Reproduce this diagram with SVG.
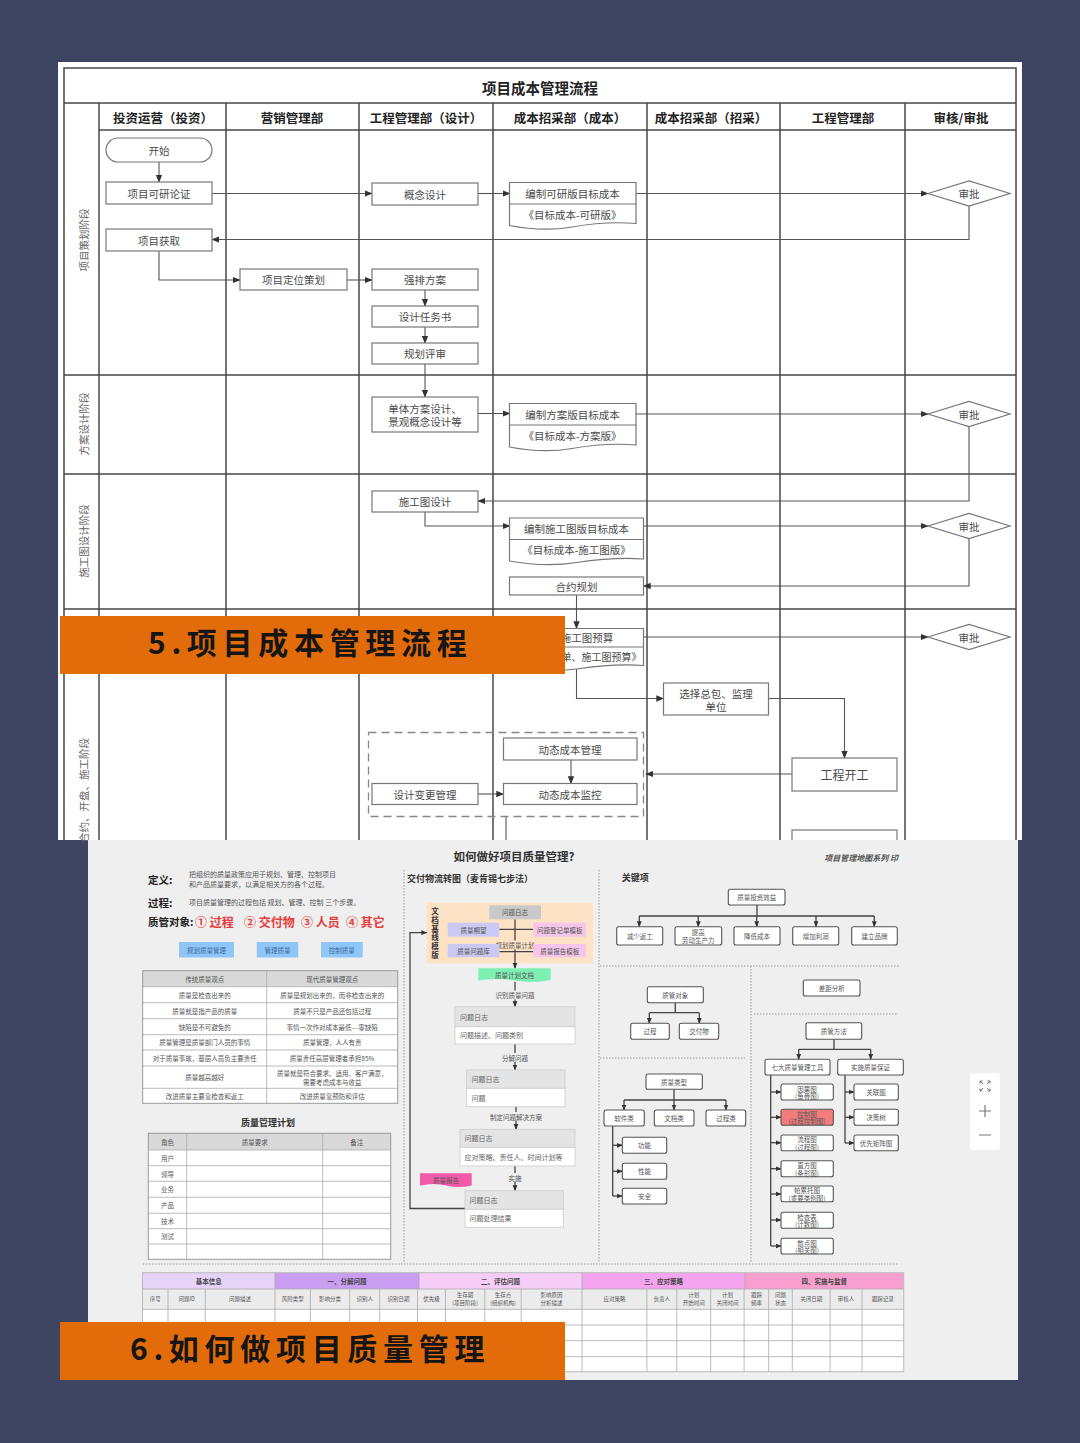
<svg xmlns="http://www.w3.org/2000/svg" width="1080" height="1443" viewBox="0 0 1080 1443">
<defs>
<style>
text{font-family:"Noto Sans CJK SC","Noto Sans",sans-serif;}
.t{font-size:10.5px;fill:#4a4a4a;text-anchor:middle;dominant-baseline:central;}
.hd{font-size:12.5px;font-weight:bold;fill:#222;text-anchor:middle;dominant-baseline:central;}
.ph{font-size:10.5px;fill:#666;text-anchor:middle;dominant-baseline:central;}
.bx{fill:#fff;stroke:#777;stroke-width:1.2;}
.ln{fill:none;stroke:#555;stroke-width:1.1;}
.grid{stroke:#474747;stroke-width:1.5;fill:none;}
.ban{font-size:30px;font-weight:bold;fill:#151515;letter-spacing:5.7px;}
.s{font-size:6.5px;fill:#555;text-anchor:middle;dominant-baseline:central;}
.sl{font-size:7px;fill:#666;dominant-baseline:central;}
.nb{fill:#fff;stroke:#555;stroke-width:1.1;}
.cl{fill:none;stroke:#444;stroke-width:1.3;}
.dot{fill:none;stroke:#999;stroke-width:1;stroke-dasharray:1.5,1.5;}
.tb{fill:none;stroke:#aaa;stroke-width:0.8;}
.lh{font-size:10.5px;font-weight:bold;fill:#222;dominant-baseline:central;}
.red{font-size:12px;font-weight:bold;fill:#e83a3a;dominant-baseline:central;}
.lbl{font-size:6.5px;fill:#555;text-anchor:middle;dominant-baseline:central;}
</style>
<marker id="a" viewBox="0 0 10 10" refX="9" refY="5" markerWidth="8" markerHeight="8" orient="auto" markerUnits="userSpaceOnUse"><path d="M0,1 L10,5 L0,9 z" fill="#333"/></marker>
<marker id="b" viewBox="0 0 10 10" refX="9" refY="5" markerWidth="6" markerHeight="6" orient="auto" markerUnits="userSpaceOnUse"><path d="M0,1 L10,5 L0,9 z" fill="#333"/></marker>
</defs>

<rect x="0" y="0" width="1080" height="1443" fill="#3e4562"/>

<!-- ============ TOP: 项目成本管理流程 ============ -->
<g id="top-panel">
<rect x="58" y="62" width="964" height="778" fill="#fff"/>
<path class="grid" d="M64,840 V68 H1016 V840"/>
<line x1="64" y1="103" x2="1016" y2="103" class="grid"/>
<line x1="99" y1="130" x2="1016" y2="130" class="grid"/>
<line x1="99" y1="103" x2="99" y2="840" class="grid"/>
<line x1="226" y1="103" x2="226" y2="840" class="grid"/>
<line x1="359" y1="103" x2="359" y2="840" class="grid"/>
<line x1="493" y1="103" x2="493" y2="840" class="grid"/>
<line x1="647" y1="103" x2="647" y2="840" class="grid"/>
<line x1="780" y1="103" x2="780" y2="840" class="grid"/>
<line x1="905" y1="103" x2="905" y2="840" class="grid"/>
<line x1="64" y1="375" x2="1016" y2="375" class="grid"/>
<line x1="64" y1="474" x2="1016" y2="474" class="grid"/>
<line x1="64" y1="609" x2="1016" y2="609" class="grid"/>
<text x="540" y="87" class="hd" style="font-size:14.5px">项目成本管理流程</text>
<text x="163" y="117" class="hd">投资运营（投资）</text>
<text x="292" y="117" class="hd">营销管理部</text>
<text x="426" y="117" class="hd">工程管理部（设计）</text>
<text x="570" y="117" class="hd">成本招采部（成本）</text>
<text x="711" y="117" class="hd">成本招采部（招采）</text>
<text x="843" y="117" class="hd">工程管理部</text>
<text x="961" y="117" class="hd">审核/审批</text>
<text class="ph" transform="translate(83,240) rotate(-90)">项目策划阶段</text>
<text class="ph" transform="translate(83,424) rotate(-90)">方案设计阶段</text>
<text class="ph" transform="translate(83,541) rotate(-90)">施工图设计阶段</text>
<text class="ph" transform="translate(83,738) rotate(-90)" style="text-anchor:end">合约、开盘、施工阶段</text>
</g>

<g id="connectors">
<path class="ln" marker-end="url(#a)" d="M159,162 V182"/>
<path class="ln" marker-end="url(#a)" d="M212,193.5 H372"/>
<path class="ln" marker-end="url(#a)" d="M478,193.5 H510"/>
<path class="ln" marker-end="url(#a)" d="M636,193.5 H928"/>
<path class="ln" marker-end="url(#a)" d="M969,205.5 V239.5 H212"/>
<path class="ln" marker-end="url(#a)" d="M159,251 V280 H240"/>
<path class="ln" marker-end="url(#a)" d="M347,280 H372"/>
<path class="ln" marker-end="url(#a)" d="M425,290 V306"/>
<path class="ln" marker-end="url(#a)" d="M425,327 V343"/>
<path class="ln" marker-end="url(#a)" d="M425,364 V397"/>
<path class="ln" marker-end="url(#a)" d="M478,413.5 H510"/>
<path class="ln" marker-end="url(#a)" d="M636,414 H928"/>
<path class="ln" marker-end="url(#a)" d="M969,426.5 V501 H478"/>
<path class="ln" marker-end="url(#a)" d="M425,512 V526 H510"/>
<path class="ln" marker-end="url(#a)" d="M643.5,526 H928"/>
<path class="ln" marker-end="url(#a)" d="M969,538.5 V586 H643.5"/>
<path class="ln" marker-end="url(#a)" d="M576.5,595 V628.5"/>
<path class="ln" marker-end="url(#a)" d="M643.5,637 H928"/>
<path class="ln" marker-end="url(#a)" d="M576.5,668 V698.5 H663.5"/>
<path class="ln" marker-end="url(#a)" d="M768.5,698.5 H844.5 V758"/>
<path class="ln" marker-end="url(#a)" d="M792,774 H646"/>
<path class="ln" marker-end="url(#a)" d="M571,760 V783.5"/>
<path class="ln" marker-end="url(#a)" d="M478,794 H503.5"/>
<path class="ln" d="M506,817 V845"/>
</g>

<g id="n-start"><rect class="bx" x="106" y="138" width="106" height="24" rx="12"/><text class="t" x="159" y="150">开始</text></g>
<g id="n-kyld"><rect class="bx" x="106" y="182" width="106" height="22"/><text class="t" x="159" y="193">项目可研论证</text></g>
<g id="n-gnsj"><rect class="bx" x="372" y="183" width="106" height="22"/><text class="t" x="425" y="194">概念设计</text></g>
<g id="n-kybcb">
<path class="bx" d="M509.5,182.5 H636 V223.5 C612,221.5 592,223.5 572,227 C552,230.5 530,229.5 509.5,225.5 Z"/>
<line x1="509.5" y1="204" x2="636" y2="204" stroke="#777" stroke-width="1.1"/>
<text class="t" x="572.5" y="193.5">编制可研版目标成本</text><text class="t" x="572.5" y="214">《目标成本-可研版》</text></g>
<g id="n-sp1"><polygon class="bx" points="928,193.5 969,181 1010,193.5 969,206"/><text class="t" x="969" y="193.5">审批</text></g>
<g id="n-xmhq"><rect class="bx" x="106" y="229" width="106" height="22"/><text class="t" x="159" y="240">项目获取</text></g>
<g id="n-dwch"><rect class="bx" x="240" y="269" width="107" height="21"/><text class="t" x="293.5" y="279.5">项目定位策划</text></g>
<g id="n-qpfa"><rect class="bx" x="372" y="269" width="106" height="21"/><text class="t" x="425" y="279.5">强排方案</text></g>
<g id="n-sjrws"><rect class="bx" x="372" y="306" width="106" height="21"/><text class="t" x="425" y="316.5">设计任务书</text></g>
<g id="n-ghps"><rect class="bx" x="372" y="343" width="106" height="21"/><text class="t" x="425" y="353.5">规划评审</text></g>
<g id="n-dtfa"><rect class="bx" x="372" y="397" width="106" height="35"/><text class="t" x="425" y="408">单体方案设计、</text><text class="t" x="425" y="421.5">景观概念设计等</text></g>
<g id="n-fabcb">
<path class="bx" d="M509.5,403.5 H636 V445 C612,443 592,445 572,448.5 C552,452 530,451 509.5,447 Z"/>
<line x1="509.5" y1="425" x2="636" y2="425" stroke="#777" stroke-width="1.1"/>
<text class="t" x="572.5" y="414">编制方案版目标成本</text><text class="t" x="572.5" y="435.5">《目标成本-方案版》</text></g>
<g id="n-sp2"><polygon class="bx" points="928,414 969,401.5 1010,414 969,426.5"/><text class="t" x="969" y="414">审批</text></g>
<g id="n-sgtsj"><rect class="bx" x="372" y="491" width="106" height="21"/><text class="t" x="425" y="501.5">施工图设计</text></g>
<g id="n-sgtbcb">
<path class="bx" d="M509.5,518 H643.5 V559 C620,557 600,559 576.5,562.5 C555,566 532,565 509.5,561 Z"/>
<line x1="509.5" y1="539.5" x2="643.5" y2="539.5" stroke="#777" stroke-width="1.1"/>
<text class="t" x="576.5" y="528.5">编制施工图版目标成本</text><text class="t" x="576.5" y="549.5">《目标成本-施工图版》</text></g>
<g id="n-sp3"><polygon class="bx" points="928,526 969,513.5 1010,526 969,538.5"/><text class="t" x="969" y="526">审批</text></g>
<g id="n-hygh"><rect class="bx" x="509.5" y="577" width="134" height="18"/><text class="t" x="576.5" y="586">合约规划</text></g>
<g id="n-sgtys">
<path class="bx" d="M509.5,628.5 H643.5 V665.5 C620,663.5 600,665.5 576.5,669 C555,672 532,671 509.5,667.5 Z"/>
<line x1="509.5" y1="647" x2="643.5" y2="647" stroke="#777" stroke-width="1.1"/>
<text class="t" x="576.5" y="637.5">编制施工图预算</text><text class="t" x="576.5" y="656.5" style="font-size:10px">《工程量清单、施工图预算》</text></g>
<g id="n-sp4"><polygon class="bx" points="928,637 969,624.5 1010,637 969,649.5"/><text class="t" x="969" y="637">审批</text></g>
<g id="n-xzzb"><rect class="bx" x="663.5" y="683" width="105" height="32"/><text class="t" x="716" y="693">选择总包、监理</text><text class="t" x="716" y="706.5">单位</text></g>
<g id="n-gckg"><rect class="bx" x="792" y="758" width="105" height="33"/><text class="t" x="844.5" y="774.5" style="font-size:12px">工程开工</text></g>
<g id="n-dash"><rect x="368.5" y="732.5" width="275" height="84" fill="none" stroke="#888" stroke-width="1.3" stroke-dasharray="8,5"/></g>
<g id="n-dtcbgl"><rect class="bx" x="503.5" y="738" width="133.5" height="22"/><text class="t" x="570" y="749">动态成本管理</text></g>
<g id="n-dtcbjk"><rect class="bx" x="503.5" y="783.5" width="133.5" height="21"/><text class="t" x="570" y="794">动态成本监控</text></g>
<g id="n-sjbg"><rect class="bx" x="372" y="783.5" width="106" height="21"/><text class="t" x="425" y="794">设计变更管理</text></g>
<g id="n-next"><rect class="bx" x="792" y="830" width="105" height="20"/></g>

<g id="banner5">
<rect x="60" y="616" width="505" height="58" fill="#e36c0a"/>
<text class="ban" x="148" y="654">5.项目成本管理流程</text>
</g>

<!-- ============ BOTTOM: 如何做好项目质量管理 ============ -->
<g id="bottom-panel">
<rect x="88" y="840" width="930" height="540" fill="#efefef"/>
<text x="514" y="856" style="font-size:11.5px;font-weight:bold;fill:#333;text-anchor:middle;dominant-baseline:central">如何做好项目质量管理?</text>
<text x="898" y="857" style="font-size:8px;font-weight:bold;font-style:italic;fill:#555;text-anchor:end;dominant-baseline:central">项目管理地图系列 印</text>
<line x1="404" y1="870" x2="404" y2="1262" class="dot"/>
<line x1="599" y1="870" x2="599" y2="1262" class="dot"/>
<line x1="143" y1="1264" x2="898" y2="1264" class="dot"/>
<line x1="600" y1="966" x2="900" y2="966" class="dot"/>
<line x1="751" y1="966" x2="751" y2="1262" class="dot"/>
<line x1="754" y1="1014" x2="898" y2="1014" class="dot"/>
<line x1="600" y1="1058" x2="745" y2="1058" class="dot"/>
</g>

<g id="def">
<text class="lh" x="148" y="879">定义:</text>
<text x="189" y="874" style="font-size:7px;fill:#555;dominant-baseline:central">把组织的质量政策应用于规划、管理、控制项目</text>
<text x="189" y="883.5" style="font-size:7px;fill:#555;dominant-baseline:central">和产品质量要求，以满足相关方的各个过程。</text>
<text class="lh" x="148" y="902">过程:</text>
<text x="189" y="901.5" style="font-size:7px;fill:#555;dominant-baseline:central">项目质量管理的过程包括 规划、管理、控制 三个步骤。</text>
<text class="lh" x="148" y="921">质管对象:</text>
<text class="red" x="195" y="921">① 过程</text>
<text class="red" x="244" y="921">② 交付物</text>
<text class="red" x="301" y="921">③ 人员</text>
<text class="red" x="346" y="921">④ 其它</text>
</g>
<g id="btn-plan"><rect x="179" y="942" width="55" height="15.5" fill="#8fc6f7"/><text class="s" x="206.5" y="949.7" style="fill:#3a6aa0">规划质量管理</text></g>
<g id="btn-manage"><rect x="256.7" y="942" width="41.6" height="15.5" fill="#8fc6f7"/><text class="s" x="277.5" y="949.7" style="fill:#3a6aa0">管理质量</text></g>
<g id="btn-control"><rect x="321" y="942" width="41.7" height="15.5" fill="#8fc6f7"/><text class="s" x="341.8" y="949.7" style="fill:#3a6aa0">控制质量</text></g>

<g id="table-views">
<rect x="142.7" y="970.7" width="255" height="16" fill="#d9d9d9"/>
<rect x="142.7" y="986.7" width="255" height="116.6" fill="#fff"/>
<rect x="142.7" y="970.7" width="255" height="132.6" fill="none" stroke="#999" stroke-width="1"/>
<line x1="266.7" y1="970.7" x2="266.7" y2="1103.3" stroke="#aaa" stroke-width="0.8"/>
<path class="tb" d="M142.7,986.7 H397.7 M142.7,1002.7 H397.7 M142.7,1018.7 H397.7 M142.7,1034.7 H397.7 M142.7,1050 H397.7 M142.7,1066 H397.7 M142.7,1088.3 H397.7"/>
<text class="s" x="204.7" y="978.7">传统质量观点</text><text class="s" x="332.2" y="978.7">现代质量管理观点</text>
<text class="s" x="204.7" y="994.7">质量是检查出来的</text><text class="s" x="332.2" y="994.7">质量是规划出来的，而非检查出来的</text>
<text class="s" x="204.7" y="1010.7">质量就是指产品的质量</text><text class="s" x="332.2" y="1010.7">质量不只是产品还包括过程</text>
<text class="s" x="204.7" y="1026.7">缺陷是不可避免的</text><text class="s" x="332.2" y="1026.7">事情一次作对成本最低---零缺陷</text>
<text class="s" x="204.7" y="1042.3">质量管理是质量部门人员的事情</text><text class="s" x="332.2" y="1042.3">质量管理，人人有责</text>
<text class="s" x="204.7" y="1058">对于质量事故，基层人员负主要责任</text><text class="s" x="332.2" y="1058">质量责任高层管理者承担85%</text>
<text class="s" x="204.7" y="1077.2">质量越高越好</text><text class="s" x="332.2" y="1072.5">质量就是符合要求、适用、客户满意，</text><text class="s" x="332.2" y="1082">需要考虑成本与收益</text>
<text class="s" x="204.7" y="1095.8">改进质量主要靠检查和返工</text><text class="s" x="332.2" y="1095.8">改进质量靠预防和评估</text>
</g>

<g id="table-plan">
<text x="268" y="1122" style="font-size:9px;font-weight:bold;fill:#333;text-anchor:middle;dominant-baseline:central">质量管理计划</text>
<rect x="148.3" y="1133.3" width="242.4" height="16.7" fill="#d9d9d9"/>
<rect x="148.3" y="1150" width="242.4" height="109.3" fill="#fff"/>
<rect x="148.3" y="1133.3" width="242.4" height="126" fill="none" stroke="#999" stroke-width="1"/>
<path class="tb" d="M186.7,1133.3 V1259.3 M322.7,1133.3 V1259.3 M148.3,1150 H390.7 M148.3,1165.7 H390.7 M148.3,1181.3 H390.7 M148.3,1197.3 H390.7 M148.3,1213.3 H390.7 M148.3,1228.7 H390.7 M148.3,1244 H390.7"/>
<text class="s" x="167.5" y="1141.7">角色</text><text class="s" x="254.7" y="1141.7">质量要求</text><text class="s" x="356.7" y="1141.7">备注</text>
<text class="s" x="167.5" y="1157.8">用户</text>
<text class="s" x="167.5" y="1173.5">领导</text>
<text class="s" x="167.5" y="1189.3">业务</text>
<text class="s" x="167.5" y="1205.3">产品</text>
<text class="s" x="167.5" y="1221">技术</text>
<text class="s" x="167.5" y="1236.3">测试</text>
</g>

<!-- middle flow -->
<g id="flow-title"><text x="407" y="878" style="font-size:9px;font-weight:bold;fill:#333;dominant-baseline:central">交付物流转图（麦肯锡七步法）</text></g>
<g id="f-base">
<rect x="426.7" y="902.7" width="166" height="60.6" fill="#fde2c6"/>
<text x="435" y="910.5" style="font-size:7.5px;font-weight:bold;fill:#333;text-anchor:middle;dominant-baseline:central">文</text>
<text x="435" y="919.3" style="font-size:7.5px;font-weight:bold;fill:#333;text-anchor:middle;dominant-baseline:central">档</text>
<text x="435" y="928.1" style="font-size:7.5px;font-weight:bold;fill:#333;text-anchor:middle;dominant-baseline:central">基</text>
<text x="435" y="936.9" style="font-size:7.5px;font-weight:bold;fill:#333;text-anchor:middle;dominant-baseline:central">线</text>
<text x="435" y="945.7" style="font-size:7.5px;font-weight:bold;fill:#333;text-anchor:middle;dominant-baseline:central">模</text>
<text x="435" y="954.5" style="font-size:7.5px;font-weight:bold;fill:#333;text-anchor:middle;dominant-baseline:central">版</text>
</g>
<g id="f-connectors">
<path class="cl" d="M499.3,929.3 H533.3 M499.3,951.7 H533.3"/>
<path class="cl" marker-end="url(#b)" d="M515,919.3 V968.3"/>
<path class="cl" marker-end="url(#b)" d="M515,981.7 V1006.7"/>
<path class="cl" marker-end="url(#b)" d="M515,1044 V1070"/>
<path class="cl" marker-end="url(#b)" d="M516,1106.7 V1129.3"/>
<path class="cl" marker-end="url(#b)" d="M515,1166 V1190.7"/>
<path class="cl" marker-end="url(#b)" d="M465,1208.5 H410 V932.7 H426.7"/>
<rect x="495" y="940.5" width="40" height="9" fill="#fde2c6"/>
<text class="lbl" x="515" y="945">规划质量计划</text>
<rect x="495" y="990.5" width="40" height="9" fill="#efefef"/>
<text class="lbl" x="515" y="995">识别质量问题</text>
<rect x="500" y="1053" width="30" height="9" fill="#efefef"/>
<text class="lbl" x="515" y="1057.7">分解问题</text>
<rect x="488" y="1112" width="56" height="9" fill="#efefef"/>
<text class="lbl" x="516" y="1116.7">制定问题解决方案</text>
<rect x="506" y="1173" width="18" height="9" fill="#efefef"/>
<text class="lbl" x="515" y="1177.7">实施</text>
</g>
<g id="f-log0"><rect x="489.3" y="905.3" width="51.7" height="14" fill="#c9c9c9"/><text class="lbl" x="515" y="912.3">问题日志</text></g>
<g id="f-qe"><rect x="447.7" y="922.7" width="51.6" height="14" fill="#c9c9f3"/><text class="lbl" x="473.5" y="929.7">质量期望</text></g>
<g id="f-qb"><rect x="447.7" y="944" width="51.6" height="13.3" fill="#c9c9f3"/><text class="lbl" x="473.5" y="950.7">质量问题库</text></g>
<g id="f-reg"><rect x="533.3" y="922.7" width="52.7" height="14" fill="#f5c6ea"/><text class="lbl" x="559.7" y="929.7">问题登记单模板</text></g>
<g id="f-rep"><rect x="533.3" y="944" width="52.7" height="13.3" fill="#f5c6ea"/><text class="lbl" x="559.7" y="950.7">质量报告模板</text></g>
<g id="f-plan"><path d="M478.3,968.3 H550.7 V980 Q533,983.5 514.5,980.5 T478.3,980.5 Z" fill="#7ef0b4"/><text class="lbl" x="514.5" y="974.8">质量计划文档</text></g>
<g id="f-log1"><rect x="455" y="1006.7" width="120" height="20" fill="#e4e4e4" stroke="#ccc" stroke-width="0.8"/><rect x="455" y="1026.7" width="120" height="17.3" fill="#fff" stroke="#ccc" stroke-width="0.8"/><text class="sl" x="460" y="1016.7">问题日志</text><text class="sl" x="460" y="1035.3">问题描述、问题类别</text></g>
<g id="f-log2"><rect x="466.7" y="1070" width="98.3" height="18.3" fill="#e4e4e4" stroke="#ccc" stroke-width="0.8"/><rect x="466.7" y="1088.3" width="98.3" height="18.4" fill="#fff" stroke="#ccc" stroke-width="0.8"/><text class="sl" x="471.5" y="1079.2">问题日志</text><text class="sl" x="471.5" y="1097.5">问题</text></g>
<g id="f-log3"><rect x="460" y="1129.3" width="115" height="18" fill="#e4e4e4" stroke="#ccc" stroke-width="0.8"/><rect x="460" y="1147.3" width="115" height="18.7" fill="#fff" stroke="#ccc" stroke-width="0.8"/><text class="sl" x="464.5" y="1138.3">问题日志</text><text class="sl" x="464.5" y="1156.7">应对策略、责任人、时间计划等</text></g>
<g id="f-log4"><rect x="465" y="1190.7" width="98.3" height="18.6" fill="#e4e4e4" stroke="#ccc" stroke-width="0.8"/><rect x="465" y="1209.3" width="98.3" height="18" fill="#fff" stroke="#ccc" stroke-width="0.8"/><text class="sl" x="469.5" y="1200">问题日志</text><text class="sl" x="469.5" y="1218.3">问题处理结果</text></g>
<g id="f-report"><path d="M420,1173.3 H471.7 V1185.5 Q458,1188.5 446,1185.5 T420,1185.5 Z" fill="#f25aa8"/><text class="lbl" x="446" y="1179.5">质量报告</text></g>

<!-- right section -->
<g id="r-title"><text x="621.7" y="877.3" style="font-size:9px;font-weight:bold;fill:#333;dominant-baseline:central">关键项</text></g>
<g id="r-connectors">
<path class="cl" d="M757,905 V916 M639.3,916 H874.3"/>
<path class="cl" marker-end="url(#b)" d="M639.3,916 V926.7"/>
<path class="cl" marker-end="url(#b)" d="M698.3,916 V926.7"/>
<path class="cl" marker-end="url(#b)" d="M756.7,916 V926.7"/>
<path class="cl" marker-end="url(#b)" d="M816,916 V926.7"/>
<path class="cl" marker-end="url(#b)" d="M874.3,916 V926.7"/>
<path class="cl" d="M675.3,1002.7 V1012.7 M649.3,1012.7 H699.3"/>
<path class="cl" marker-end="url(#b)" d="M649.3,1012.7 V1023.3"/>
<path class="cl" marker-end="url(#b)" d="M699.3,1012.7 V1023.3"/>
<path class="cl" d="M834,1039.3 V1049.3 M798.7,1049.3 H870.7"/>
<path class="cl" marker-end="url(#b)" d="M798.7,1049.3 V1059.3"/>
<path class="cl" marker-end="url(#b)" d="M870.7,1049.3 V1059.3"/>
<path class="cl" d="M674,1089.3 V1100 M624,1100 H726"/>
<path class="cl" marker-end="url(#b)" d="M624,1100 V1110"/>
<path class="cl" marker-end="url(#b)" d="M674,1100 V1110"/>
<path class="cl" marker-end="url(#b)" d="M726,1100 V1110"/>
<path class="cl" d="M612.7,1126 V1196"/>
<path class="cl" marker-end="url(#b)" d="M612.7,1145.3 H622.3"/>
<path class="cl" marker-end="url(#b)" d="M612.7,1171.3 H622.3"/>
<path class="cl" marker-end="url(#b)" d="M612.7,1196 H622.3"/>
<path class="cl" d="M770.7,1075 V1246"/>
<path class="cl" marker-end="url(#b)" d="M770.7,1092 H781"/>
<path class="cl" marker-end="url(#b)" d="M770.7,1117.3 H781"/>
<path class="cl" marker-end="url(#b)" d="M770.7,1142.7 H781"/>
<path class="cl" marker-end="url(#b)" d="M770.7,1168.7 H781"/>
<path class="cl" marker-end="url(#b)" d="M770.7,1194 H781"/>
<path class="cl" marker-end="url(#b)" d="M770.7,1220 H781"/>
<path class="cl" marker-end="url(#b)" d="M770.7,1246 H781"/>
<path class="cl" d="M845,1075 V1143"/>
<path class="cl" marker-end="url(#b)" d="M845,1092 H854"/>
<path class="cl" marker-end="url(#b)" d="M845,1117.3 H854"/>
<path class="cl" marker-end="url(#b)" d="M845,1143 H854"/>
</g>
<g id="r-roi"><rect class="nb" x="728.3" y="889.3" width="56.7" height="15.7" rx="2"/><text class="s" x="756.7" y="897.2">质量投资效益</text></g>
<g id="r-k1"><rect class="nb" x="616.7" y="926.7" width="46" height="18.3" rx="2"/><text class="s" x="639.7" y="935.8">减少返工</text></g>
<g id="r-k2"><rect class="nb" x="675" y="926.7" width="46.7" height="18.3" rx="2"/><text class="s" x="698.3" y="931.5">提高</text><text class="s" x="698.3" y="940">劳动生产力</text></g>
<g id="r-k3"><rect class="nb" x="734" y="926.7" width="46" height="18.3" rx="2"/><text class="s" x="757" y="935.8">降低成本</text></g>
<g id="r-k4"><rect class="nb" x="792.7" y="926.7" width="46" height="18.3" rx="2"/><text class="s" x="815.7" y="935.8">增加利润</text></g>
<g id="r-k5"><rect class="nb" x="851.7" y="926.7" width="45.6" height="18.3" rx="2"/><text class="s" x="874.5" y="935.8">建立品牌</text></g>
<g id="r-obj"><rect class="nb" x="647.3" y="986.7" width="56" height="16" rx="2"/><text class="s" x="675.3" y="994.7">质管对象</text></g>
<g id="r-obj1"><rect class="nb" x="630.7" y="1023.3" width="38.6" height="16" rx="2"/><text class="s" x="650" y="1031.3">过程</text></g>
<g id="r-obj2"><rect class="nb" x="679.3" y="1023.3" width="39.4" height="16" rx="2"/><text class="s" x="699" y="1031.3">交付物</text></g>
<g id="r-gap"><rect class="nb" x="803.3" y="980" width="56.7" height="16" rx="2"/><text class="s" x="831.7" y="988">差距分析</text></g>
<g id="r-method"><rect class="nb" x="806" y="1022.7" width="55.7" height="16.6" rx="2"/><text class="s" x="833.8" y="1031">质管方法</text></g>
<g id="r-tools"><rect class="nb" x="765" y="1059.3" width="65" height="15.7" rx="2"/><text class="s" x="797.5" y="1067.2">七大质量管理工具</text></g>
<g id="r-qa"><rect class="nb" x="837.7" y="1059.3" width="65.6" height="15.7" rx="2"/><text class="s" x="870.5" y="1067.2">实施质量保证</text></g>
<g id="r-t1"><rect class="nb" x="781" y="1084" width="52.3" height="16" rx="2"/><text class="s" x="807" y="1088.5">因果图</text><text class="s" x="807" y="1096">(鱼骨图)</text></g>
<g id="r-t2"><rect x="781" y="1109.3" width="52.3" height="16" rx="2" fill="#f27c7c" stroke="#555" stroke-width="1.1"/><text class="s" x="807" y="1113.8">控制图</text><text class="s" x="807" y="1121.3">(过程控制图)</text></g>
<g id="r-t3"><rect class="nb" x="781" y="1135" width="52.3" height="15.7" rx="2"/><text class="s" x="807" y="1139.3">流程图</text><text class="s" x="807" y="1146.8">(过程图)</text></g>
<g id="r-t4"><rect class="nb" x="781" y="1160.7" width="52.3" height="16" rx="2"/><text class="s" x="807" y="1165.2">直方图</text><text class="s" x="807" y="1172.7">(条形图)</text></g>
<g id="r-t5"><rect class="nb" x="781" y="1186" width="52.3" height="15.7" rx="2"/><text class="s" x="807" y="1190.3">帕累托图</text><text class="s" x="807" y="1197.8">(重要类别图)</text></g>
<g id="r-t6"><rect class="nb" x="781" y="1212.3" width="52.3" height="16" rx="2"/><text class="s" x="807" y="1216.8">检查表</text><text class="s" x="807" y="1224.3">(计数图)</text></g>
<g id="r-t7"><rect class="nb" x="781" y="1238.3" width="52.3" height="15.7" rx="2"/><text class="s" x="807" y="1242.6">散点图</text><text class="s" x="807" y="1250.1">(相关图)</text></g>
<g id="r-q1"><rect class="nb" x="854" y="1084" width="44.3" height="16" rx="2"/><text class="s" x="876" y="1092">关联图</text></g>
<g id="r-q2"><rect class="nb" x="854" y="1109.3" width="44.3" height="16" rx="2"/><text class="s" x="876" y="1117.3">决策树</text></g>
<g id="r-q3"><rect class="nb" x="854" y="1135" width="44.3" height="15.7" rx="2"/><text class="s" x="876" y="1142.8">优先矩阵图</text></g>
<g id="r-type"><rect class="nb" x="646" y="1074" width="56.3" height="15.3" rx="2"/><text class="s" x="674" y="1081.7">质量类型</text></g>
<g id="r-ty1"><rect class="nb" x="604" y="1110" width="40.3" height="16" rx="2"/><text class="s" x="624" y="1118">软件类</text></g>
<g id="r-ty2"><rect class="nb" x="654.3" y="1110" width="39.7" height="16" rx="2"/><text class="s" x="674" y="1118">文档类</text></g>
<g id="r-ty3"><rect class="nb" x="706" y="1110" width="39.7" height="16" rx="2"/><text class="s" x="726" y="1118">过程类</text></g>
<g id="r-s1"><rect class="nb" x="622.3" y="1137.3" width="44.4" height="16" rx="2"/><text class="s" x="644.5" y="1145.3">功能</text></g>
<g id="r-s2"><rect class="nb" x="622.3" y="1163.3" width="44.4" height="16" rx="2"/><text class="s" x="644.5" y="1171.3">性能</text></g>
<g id="r-s3"><rect class="nb" x="622.3" y="1188.3" width="44.4" height="15.7" rx="2"/><text class="s" x="644.5" y="1196.2">安全</text></g>

<g id="toolbar">
<rect x="970" y="1073" width="30" height="77" rx="3" fill="#fff"/>
<path d="M980,1081 l3,3 M980,1081 h2.5 M980,1081 v2.5 M990,1081 l-3,3 M990,1081 h-2.5 M990,1081 v2.5 M980,1091 l3,-3 M980,1091 h2.5 M980,1091 v-2.5 M990,1091 l-3,-3 M990,1091 h-2.5 M990,1091 v-2.5" stroke="#777" stroke-width="1" fill="none"/>
<path d="M985,1105 v12 M979,1111 h12 M979,1135 h12" stroke="#777" stroke-width="1.2"/>
</g>

<g id="table-issues">
<rect x="142.5" y="1272.7" width="132.5" height="16.3" fill="#e6d3f7"/>
<rect x="275" y="1272.7" width="144" height="16.3" fill="#c99df2"/>
<rect x="419" y="1272.7" width="163" height="16.3" fill="#f6cdf6"/>
<rect x="582" y="1272.7" width="163" height="16.3" fill="#f5a4ef"/>
<rect x="745" y="1272.7" width="158.7" height="16.3" fill="#f7a0cf"/>
<rect x="142.5" y="1289" width="761.2" height="20.3" fill="#ebebeb"/>
<rect x="142.5" y="1309.3" width="761.2" height="62.4" fill="#fff"/>
<rect x="142.5" y="1272.7" width="761.2" height="99" fill="none" stroke="#bbb" stroke-width="1"/>
<path class="tb" d="M142.5,1289 H903.7 M142.5,1309.3 H903.7 M142.5,1325 H903.7 M142.5,1340.7 H903.7 M142.5,1356.7 H903.7"/>
<path class="tb" d="M168,1289 V1371.7 M205.3,1289 V1371.7 M275,1272.7 V1371.7 M310.4,1289 V1371.7 M349.7,1289 V1371.7 M379.7,1289 V1371.7 M417.5,1289 V1371.7 M419,1272.7 V1289 M445.5,1289 V1371.7 M484.8,1289 V1371.7 M521.2,1289 V1371.7 M582,1272.7 V1371.7 M646.9,1289 V1371.7 M676.8,1289 V1371.7 M710.7,1289 V1371.7 M744.1,1289 V1371.7 M745,1272.7 V1289 M768.7,1289 V1371.7 M792.3,1289 V1371.7 M830.1,1289 V1371.7 M862,1289 V1371.7"/>
<text class="s" x="208.7" y="1281" style="font-weight:bold;fill:#444">基本信息</text>
<text class="s" x="347" y="1281" style="font-weight:bold;fill:#444">一、分解问题</text>
<text class="s" x="500.5" y="1281" style="font-weight:bold;fill:#444">二、评估问题</text>
<text class="s" x="663.5" y="1281" style="font-weight:bold;fill:#444">三、应对策略</text>
<text class="s" x="824.3" y="1281" style="font-weight:bold;fill:#444">四、实施与监督</text>
<g>
<text class="s" x="155.2" y="1299" style="font-size:5.5px">序号</text>
<text class="s" x="186.6" y="1299" style="font-size:5.5px">问题ID</text>
<text class="s" x="240.1" y="1299" style="font-size:5.5px">问题描述</text>
<text class="s" x="292.7" y="1299" style="font-size:5.5px">风险类型</text>
<text class="s" x="330" y="1299" style="font-size:5.5px">影响分类</text>
<text class="s" x="364.7" y="1299" style="font-size:5.5px">识别人</text>
<text class="s" x="398.6" y="1299" style="font-size:5.5px">识别日期</text>
<text class="s" x="431.5" y="1299" style="font-size:5.5px">优先级</text>
<text class="s" x="465.1" y="1295" style="font-size:5.5px">生存期</text><text class="s" x="465.1" y="1303" style="font-size:5.5px">(项目阶段)</text>
<text class="s" x="503" y="1295" style="font-size:5.5px">生存点</text><text class="s" x="503" y="1303" style="font-size:5.5px">(组织机构)</text>
<text class="s" x="551.6" y="1295" style="font-size:5.5px">影响原因</text><text class="s" x="551.6" y="1303" style="font-size:5.5px">分析描述</text>
<text class="s" x="614.4" y="1299" style="font-size:5.5px">应对策略</text>
<text class="s" x="661.8" y="1299" style="font-size:5.5px">负责人</text>
<text class="s" x="693.7" y="1295" style="font-size:5.5px">计划</text><text class="s" x="693.7" y="1303" style="font-size:5.5px">开始时间</text>
<text class="s" x="727.4" y="1295" style="font-size:5.5px">计划</text><text class="s" x="727.4" y="1303" style="font-size:5.5px">关闭时间</text>
<text class="s" x="756.4" y="1295" style="font-size:5.5px">跟踪</text><text class="s" x="756.4" y="1303" style="font-size:5.5px">频率</text>
<text class="s" x="780.5" y="1295" style="font-size:5.5px">问题</text><text class="s" x="780.5" y="1303" style="font-size:5.5px">状态</text>
<text class="s" x="811.2" y="1299" style="font-size:5.5px">关闭日期</text>
<text class="s" x="846" y="1299" style="font-size:5.5px">审核人</text>
<text class="s" x="882.8" y="1299" style="font-size:5.5px">跟踪记录</text>
</g>
</g>

<g id="banner6">
<rect x="60" y="1322" width="505" height="58" fill="#e36c0a"/>
<text class="ban" x="130" y="1360">6.如何做项目质量管理</text>
</g>
</svg>
